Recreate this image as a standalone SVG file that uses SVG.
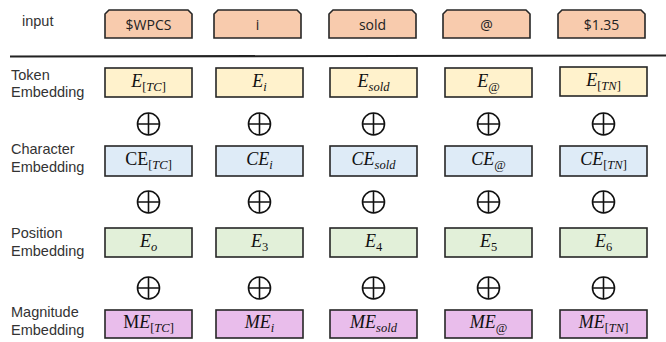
<svg xmlns="http://www.w3.org/2000/svg" width="666" height="342" viewBox="0 0 666 342">
<style>
.lbl{font-family:"Liberation Sans","Open Sans",sans-serif;font-size:14.5px;fill:#333}
.in{font-family:"Open Sans","Liberation Sans",sans-serif;font-size:14px;fill:#222;text-anchor:middle}
.m{font-family:"Liberation Serif","DejaVu Serif",serif;font-size:18px;fill:#111;text-anchor:middle}
.i{font-style:italic}
.s{font-size:12.5px}
.box{stroke:#262626;stroke-width:1.6}
.ip{fill:#F8CBAD}
.tk{fill:#FFF2CC}
.ch{fill:#DEEBF7}
.ps{fill:#E2F0D9}
.mg{fill:#E9BDEB}
.plus{fill:none;stroke:#111;stroke-width:1.6}
</style>
<defs>
<g id="plus"><circle cx="0" cy="0" r="11" class="plus"/><path d="M-11,0H11M0,-11V11" class="plus"/></g>
<path id="tab" d="M0,28V4L4,0H83L87,4V28Z"/>
</defs>
<rect width="666" height="342" fill="#fff"/>
<g id="labels">
<text class="lbl" x="22" y="26">input</text>
<text class="lbl" x="11" y="80">Token</text>
<text class="lbl" x="11" y="97">Embedding</text>
<text class="lbl" x="11" y="154">Character</text>
<text class="lbl" x="11" y="172">Embedding</text>
<text class="lbl" x="11" y="238">Position</text>
<text class="lbl" x="11" y="256">Embedding</text>
<text class="lbl" x="11" y="317">Magnitude</text>
<text class="lbl" x="11" y="335">Embedding</text>
</g>
<line x1="10" y1="56.5" x2="666" y2="55.5" stroke="#222" stroke-width="2"/>
<g id="input">
<g id="in1"><use href="#tab" x="105" y="10" class="box ip"/><text class="in" x="148.5" y="30">$WPCS</text></g>
<g id="in2"><use href="#tab" x="214" y="10" class="box ip"/><text class="in" x="257.5" y="30">i</text></g>
<g id="in3"><use href="#tab" x="329" y="10" class="box ip"/><text class="in" x="372.5" y="30">sold</text></g>
<g id="in4"><use href="#tab" x="443" y="10" class="box ip"/><text class="in" x="486.5" y="30">@</text></g>
<g id="in5"><use href="#tab" x="558" y="10" class="box ip"/><text class="in" x="601.5" y="30">$1.35</text></g>
</g>
<g id="token">
<g id="tk1"><rect x="105" y="68" width="87" height="29" class="box tk"/><text class="m" x="148.5" y="87"><tspan class="i">E</tspan><tspan class="s" dy="3.5">[<tspan class="i">TC</tspan>]</tspan></text></g>
<g id="tk2"><rect x="216" y="68" width="87" height="29" class="box tk"/><text class="m" x="259.5" y="87"><tspan class="i">E</tspan><tspan class="s i" dy="3.5">i</tspan></text></g>
<g id="tk3"><rect x="330" y="68" width="87" height="29" class="box tk"/><text class="m" x="373.5" y="87"><tspan class="i">E</tspan><tspan class="s i" dy="3.5">sold</tspan></text></g>
<g id="tk4"><rect x="445" y="68" width="87" height="29" class="box tk"/><text class="m" x="488.5" y="87"><tspan class="i">E</tspan><tspan class="s" dy="3.5">@</tspan></text></g>
<g id="tk5"><rect x="560" y="67" width="87" height="29" class="box tk"/><text class="m" x="603.5" y="86"><tspan class="i">E</tspan><tspan class="s" dy="3.5">[<tspan class="i">TN</tspan>]</tspan></text></g>
</g>
<g id="char">
<g id="ch1"><rect x="105" y="146" width="87" height="30" class="box ch"/><text class="m" x="148.5" y="165">CE<tspan class="s" dy="3.5">[<tspan class="i">TC</tspan>]</tspan></text></g>
<g id="ch2"><rect x="216" y="146" width="87" height="30" class="box ch"/><text class="m" x="259.5" y="165"><tspan class="i">CE</tspan><tspan class="s i" dy="3.5">i</tspan></text></g>
<g id="ch3"><rect x="330" y="146" width="87" height="30" class="box ch"/><text class="m" x="373.5" y="165"><tspan class="i">CE</tspan><tspan class="s i" dy="3.5">sold</tspan></text></g>
<g id="ch4"><rect x="445" y="146" width="87" height="30" class="box ch"/><text class="m" x="488.5" y="165"><tspan class="i">CE</tspan><tspan class="s" dy="3.5">@</tspan></text></g>
<g id="ch5"><rect x="560" y="146" width="87" height="30" class="box ch"/><text class="m" x="603.5" y="165"><tspan class="i">CE</tspan><tspan class="s" dy="3.5">[<tspan class="i">TN</tspan>]</tspan></text></g>
</g>
<g id="pos">
<g id="ps1"><rect x="105" y="228" width="87" height="29" class="box ps"/><text class="m" x="148.5" y="247"><tspan class="i">E</tspan><tspan class="s i" dy="3.5">o</tspan></text></g>
<g id="ps2"><rect x="216" y="228" width="87" height="29" class="box ps"/><text class="m" x="259.5" y="247"><tspan class="i">E</tspan><tspan class="s" dy="3.5">3</tspan></text></g>
<g id="ps3"><rect x="330" y="228" width="87" height="29" class="box ps"/><text class="m" x="373.5" y="247"><tspan class="i">E</tspan><tspan class="s" dy="3.5">4</tspan></text></g>
<g id="ps4"><rect x="445" y="228" width="87" height="29" class="box ps"/><text class="m" x="488.5" y="247"><tspan class="i">E</tspan><tspan class="s" dy="3.5">5</tspan></text></g>
<g id="ps5"><rect x="560" y="228" width="87" height="29" class="box ps"/><text class="m" x="603.5" y="247"><tspan class="i">E</tspan><tspan class="s" dy="3.5">6</tspan></text></g>
</g>
<g id="mag">
<g id="mg1"><rect x="105" y="310" width="87" height="28" class="box mg"/><text class="m" x="148.5" y="328">M<tspan class="i">E</tspan><tspan class="s" dy="3.5">[<tspan class="i">TC</tspan>]</tspan></text></g>
<g id="mg2"><rect x="216" y="310" width="87" height="28" class="box mg"/><text class="m" x="259.5" y="328"><tspan class="i">ME</tspan><tspan class="s i" dy="3.5">i</tspan></text></g>
<g id="mg3"><rect x="330" y="310" width="87" height="28" class="box mg"/><text class="m" x="373.5" y="328"><tspan class="i">ME</tspan><tspan class="s i" dy="3.5">sold</tspan></text></g>
<g id="mg4"><rect x="445" y="310" width="87" height="28" class="box mg"/><text class="m" x="488.5" y="328"><tspan class="i">ME</tspan><tspan class="s" dy="3.5">@</tspan></text></g>
<g id="mg5"><rect x="560" y="310" width="87" height="28" class="box mg"/><text class="m" x="603.5" y="328"><tspan class="i">ME</tspan><tspan class="s" dy="3.5">[<tspan class="i">TN</tspan>]</tspan></text></g>
</g>
<g id="connectors">
<use href="#plus" x="148.5" y="124"/><use href="#plus" x="259.5" y="124"/><use href="#plus" x="373.5" y="124"/><use href="#plus" x="488.5" y="124"/><use href="#plus" x="603.5" y="124"/>
<use href="#plus" x="148.5" y="202"/><use href="#plus" x="259.5" y="202"/><use href="#plus" x="373.5" y="202"/><use href="#plus" x="488.5" y="202"/><use href="#plus" x="603.5" y="202"/>
<use href="#plus" x="148.5" y="288"/><use href="#plus" x="259.5" y="288"/><use href="#plus" x="373.5" y="288"/><use href="#plus" x="488.5" y="288"/><use href="#plus" x="603.5" y="288"/>
</g>
</svg>
